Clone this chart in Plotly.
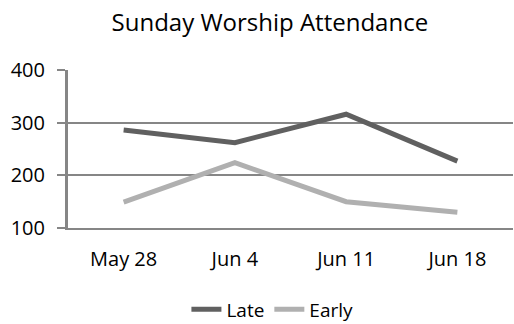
import plotly.graph_objects as go

# Weekly attendance for the two Sunday services
dates = ["May 28", "Jun 4", "Jun 11", "Jun 18"]
late = [286, 262, 316, 227]
early = [149, 224, 150, 130]
y_ticks = [100, 200, 300, 400]

FONT = "Open Sans"
GRID = "#868686"

fig = go.Figure()
fig.add_trace(go.Scatter(x=dates, y=late, name="Late", mode="lines",
                         line=dict(color="#606060", width=5)))
fig.add_trace(go.Scatter(x=dates, y=early, name="Early", mode="lines",
                         line=dict(color="#b0b0b0", width=5)))

fig.update_layout(
    width=514, height=324,
    margin=dict(l=68, r=1, t=70, b=96),
    paper_bgcolor="white", plot_bgcolor="white",
    font=dict(family=FONT, size=20, color="#000000"),
    title=dict(text="Sunday Worship Attendance", x=0.525, xref="container",
               xanchor="center", y=0.93, yanchor="middle",
               font=dict(family=FONT, size=24, color="#000000")),
    showlegend=True,
    legend=dict(orientation="h", x=0.53, xref="container", xanchor="center",
                y=0.045, yref="container", yanchor="middle",
                font=dict(family=FONT, size=19), itemwidth=30,
                traceorder="normal"),
    xaxis=dict(type="category", range=[-0.5, 3.5], showgrid=False,
               showline=True, linecolor=GRID, linewidth=2,
               ticks="", ticklabelstandoff=12,
               tickfont=dict(family=FONT, size=20)),
    yaxis=dict(range=[100, 400], tickvals=y_ticks, showgrid=True,
               gridcolor=GRID, gridwidth=2, zeroline=False,
               showline=True, linecolor=GRID, linewidth=3,
               ticks="outside", ticklen=8, tickcolor=GRID, tickwidth=2,
               ticklabelstandoff=8,
               tickfont=dict(family=FONT, size=20)),
)

fig.write_html("out.html")
